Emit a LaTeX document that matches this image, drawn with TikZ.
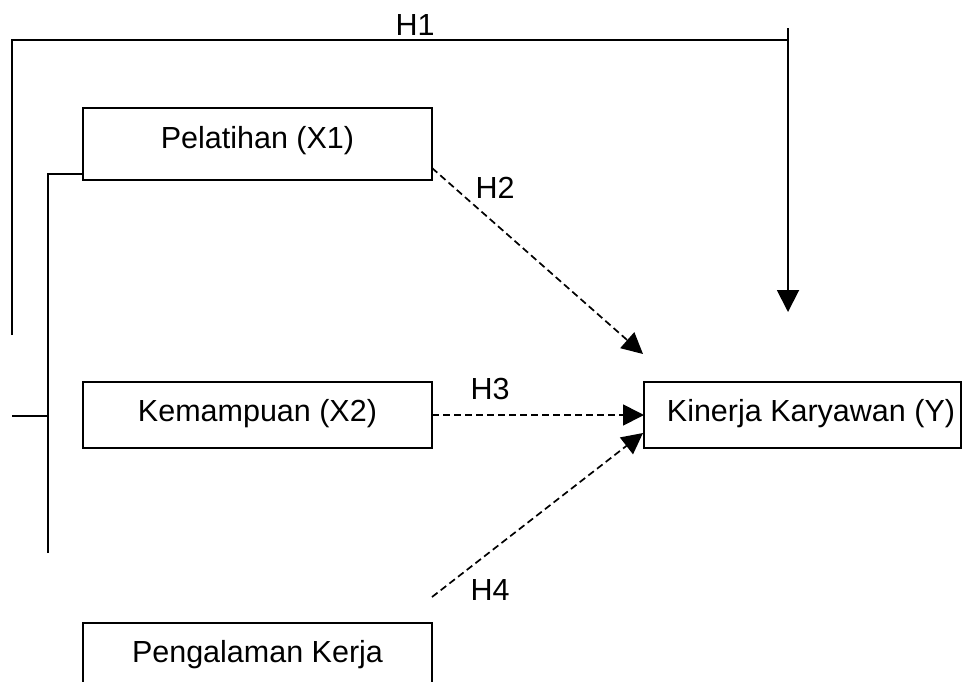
\documentclass[tikz,border=0pt]{standalone}
\usepackage{fontspec}
\setmainfont{Liberation Sans}
\usetikzlibrary{arrows.meta}
\begin{document}
\begin{tikzpicture}[x=1pt,y=-1pt,
  box/.style={draw, line width=2pt, rectangle, inner sep=0pt, outer sep=0pt},
  lbl/.style={font=\fontsize{30.5}{36}\selectfont, inner sep=0pt},
  solidline/.style={line width=1.9pt},
  dashedarrow/.style={line width=1.7pt, dash pattern=on 7pt off 4pt, -{Triangle[length=21pt,width=21pt]}},
]
\useasboundingbox (0,0) rectangle (963,681);
\clip (0,0) rectangle (963,681);
% boxes
\node[box, minimum width=349pt, minimum height=72pt] (p) at (257.5,144) {};
\node[lbl] (pt) at (257.5,141) {Pelatihan (X1)};
\node[box, minimum width=349pt, minimum height=66pt] (k) at (257.5,415) {};
\node[lbl] (kt) at (257.5,414) {Kemampuan (X2)};
\node[box, minimum width=317pt, minimum height=66pt] (y) at (802.5,415) {};
\node[lbl] (yt) at (811,414) {Kinerja Karyawan (Y)};
\node[box, minimum width=349pt, minimum height=100pt] (g) at (257.5,673) {};
\node[lbl] (gt) at (257.5,655) {Pengalaman Kerja};
% H1
\coordinate (o1) at (12,335);
\coordinate (o2) at (12,40);
\coordinate (o3) at (788,40);
\coordinate (h1top) at (788,28);
\coordinate (h1tip) at (788,312);
\draw[solidline] (o1) -- (o2) -- (o3);
\draw[solidline, -{Triangle[length=22pt,width=22pt]}] (h1top) -- (h1tip);
\node[lbl] (h1) at (415,25) {H1};
% left bracket lines
\coordinate (i1) at (48,553);
\coordinate (i2) at (48,174);
\draw[solidline] (i1) -- (i2) -- (i2 -| p.west);
\coordinate (l1) at (12,416);
\draw[solidline] (l1) -- (l1 -| i1);
% H2
\coordinate (h2s) at (432,168);
\coordinate (h2e) at (643,354);
\draw[dashedarrow] (h2s) -- (h2e);
\node[lbl] (h2) at (495,188) {H2};
% H3
\draw[dashedarrow] (k.east) -- (y.west);
\node[lbl] (h3) at (490,389) {H3};
% H4
\coordinate (h4s) at (432,597);
\coordinate (h4e) at (643,433);
\draw[dashedarrow] (h4s) -- (h4e);
\node[lbl] (h4) at (490,590) {H4};
\end{tikzpicture}
\end{document}
